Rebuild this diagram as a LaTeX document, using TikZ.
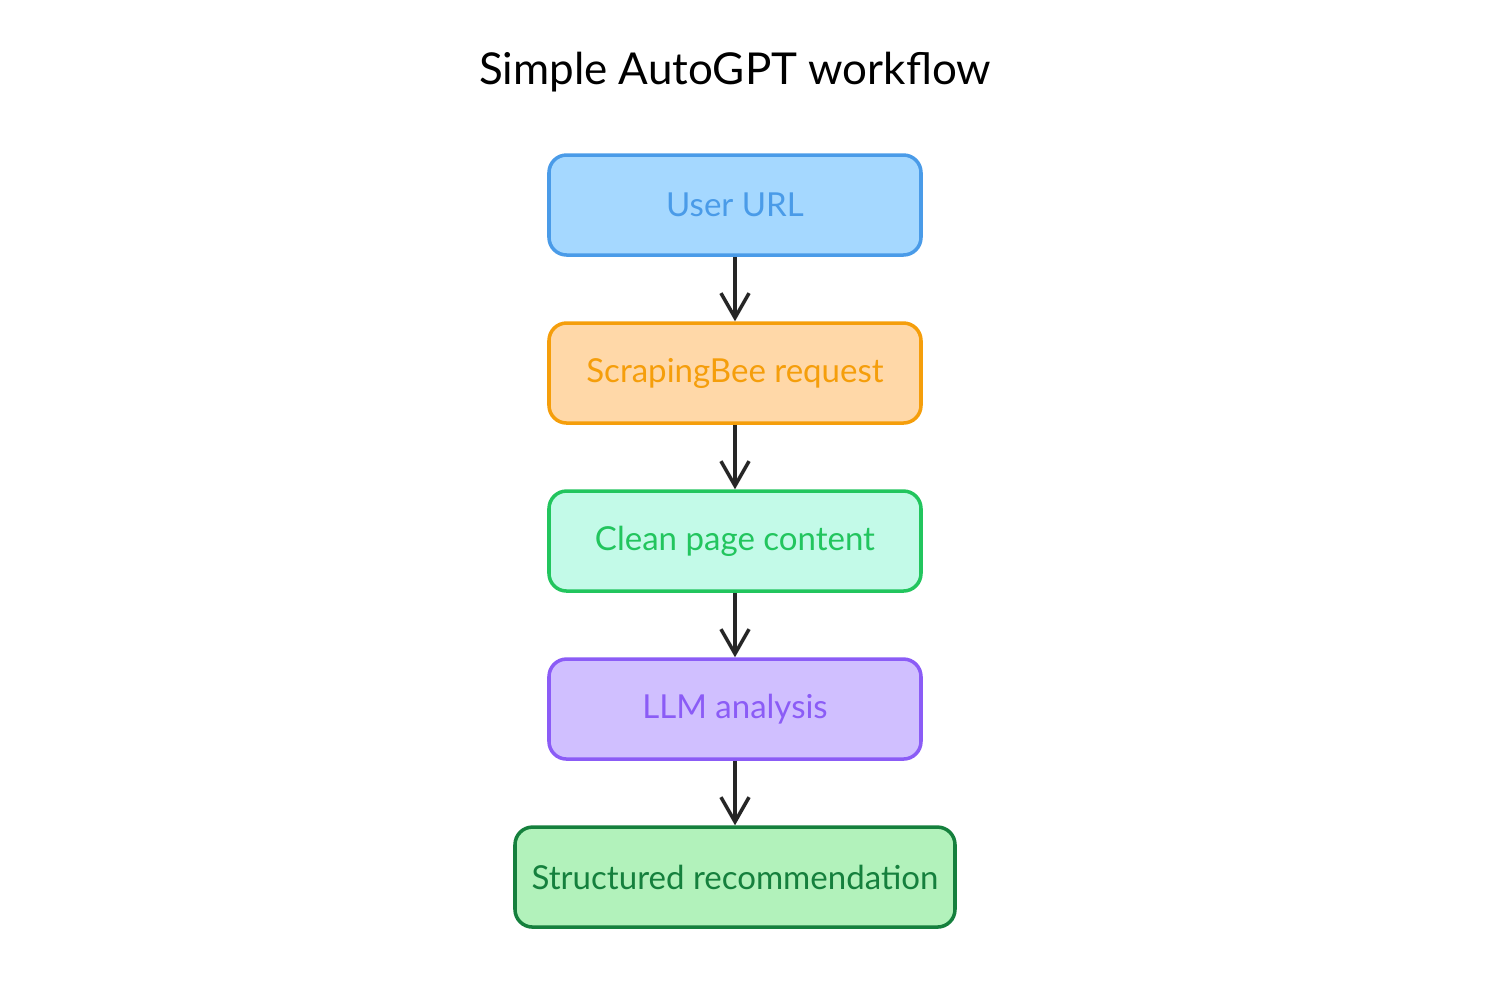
\documentclass[tikz,border=0pt]{standalone}
\usepackage{fontspec}
\setmainfont{Lato}
\usetikzlibrary{positioning, arrows.meta}

\definecolor{blueline}{HTML}{4A9BE8}
\definecolor{bluefill}{HTML}{A5D8FF}
\definecolor{orangeline}{HTML}{F59E0B}
\definecolor{orangefill}{HTML}{FFD8A8}
\definecolor{greenline}{HTML}{22C55E}
\definecolor{greenfill}{HTML}{C3FAE8}
\definecolor{purpleline}{HTML}{8B5CF6}
\definecolor{purplefill}{HTML}{D0BFFF}
\definecolor{darkline}{HTML}{15803D}
\definecolor{darkfill}{HTML}{B2F2BB}

\begin{document}
\begin{tikzpicture}[
    stepbox/.style={draw, line width=1pt, rounded corners=5pt, minimum width=3.72cm,
        minimum height=1.0cm, inner xsep=2pt, font=\fontsize{9.4}{11}\selectfont},
    flow/.style={-{Straight Barb[length=7pt, width=8pt]}, line width=1pt, black!85}
]
    % Canvas
    \useasboundingbox (0,0) rectangle (15,-10.01);

    % Title
    \node[font=\fontsize{12.5}{15}\selectfont] (title) at (7.35,-0.72) {Simple AutoGPT workflow};

    % Steps
    \node[stepbox, draw=blueline, fill=bluefill, text=blueline] (url) at (7.35,-2.05) {User URL};
    \node[stepbox, draw=orangeline, fill=orangefill, text=orangeline, below=0.645cm of url] (scrape) {ScrapingBee request};
    \node[stepbox, draw=greenline, fill=greenfill, text=greenline, below=0.645cm of scrape] (clean) {Clean page content};
    \node[stepbox, draw=purpleline, fill=purplefill, text=purpleline, below=0.645cm of clean] (llm) {LLM analysis};
    \node[stepbox, draw=darkline, fill=darkfill, text=darkline, minimum width=4.4cm, below=0.645cm of llm] (result) {Structured recommendation};

    % Arrows
    \draw[flow] (url) -- (scrape);
    \draw[flow] (scrape) -- (clean);
    \draw[flow] (clean) -- (llm);
    \draw[flow] (llm) -- (result);
\end{tikzpicture}
\end{document}
